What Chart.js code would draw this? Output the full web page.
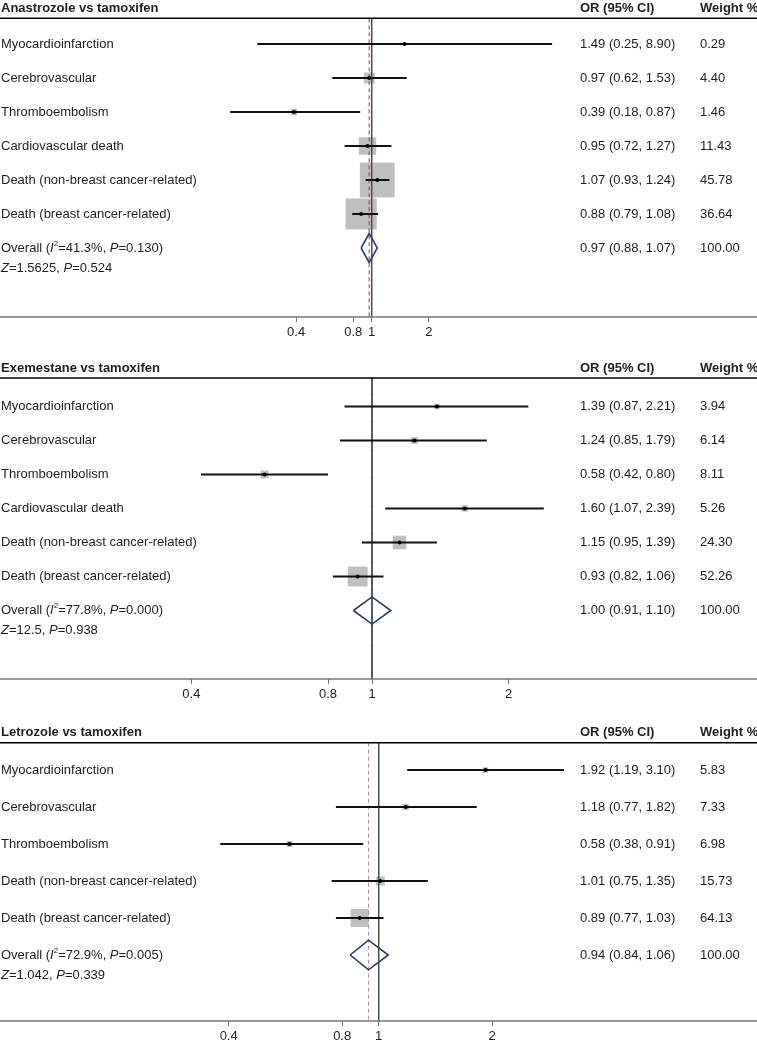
<!DOCTYPE html>
<html><head><meta charset="utf-8">
<script src="https://cdn.jsdelivr.net/npm/chart.js@4.4.1/dist/chart.umd.min.js"></script>
<style>
html,body{margin:0;padding:0;background:#fff;width:757px;height:1050px;overflow:hidden;}
.p{position:absolute;left:0;width:757px;}
</style></head><body>
<div class="p" id="w1"><canvas id="c1"></canvas></div>
<div class="p" id="w2"><canvas id="c2"></canvas></div>
<div class="p" id="w3"><canvas id="c3"></canvas></div>
<script>
// ---------- DATA ----------
const titles = ["Anastrozole vs tamoxifen", "Exemestane vs tamoxifen", "Letrozole vs tamoxifen"];
const tickValues = [0.4, 0.8, 1, 2];

const outcomes1 = ["Myocardioinfarction","Cerebrovascular","Thromboembolism","Cardiovascular death","Death (non-breast cancer-related)","Death (breast cancer-related)"];
const or1 = [1.49, 0.97, 0.39, 0.95, 1.07, 0.88];
const lo1 = [0.25, 0.62, 0.18, 0.72, 0.93, 0.79];
const hi1 = [8.90, 1.53, 0.87, 1.27, 1.24, 1.08];
const wt1 = [0.29, 4.40, 1.46, 11.43, 45.78, 36.64];
const overall1 = [0.97, 0.88, 1.07];      // OR, lower, upper
const stats1 = ["41.3", "0.130", "1.5625", "0.524"]; // I2, P(het), Z, P

const outcomes2 = ["Myocardioinfarction","Cerebrovascular","Thromboembolism","Cardiovascular death","Death (non-breast cancer-related)","Death (breast cancer-related)"];
const or2 = [1.39, 1.24, 0.58, 1.60, 1.15, 0.93];
const lo2 = [0.87, 0.85, 0.42, 1.07, 0.95, 0.82];
const hi2 = [2.21, 1.79, 0.80, 2.39, 1.39, 1.06];
const wt2 = [3.94, 6.14, 8.11, 5.26, 24.30, 52.26];
const overall2 = [1.00, 0.91, 1.10];
const stats2 = ["77.8", "0.000", "12.5", "0.938"];

const outcomes3 = ["Myocardioinfarction","Cerebrovascular","Thromboembolism","Death (non-breast cancer-related)","Death (breast cancer-related)"];
const or3 = [1.92, 1.18, 0.58, 1.01, 0.89];
const lo3 = [1.19, 0.77, 0.38, 0.75, 0.77];
const hi3 = [3.10, 1.82, 0.91, 1.35, 1.03];
const wt3 = [5.83, 7.33, 6.98, 15.73, 64.13];
const overall3 = [0.94, 0.84, 1.06];
const stats3 = ["72.9", "0.005", "1.042", "0.339"];

// ---------- LAYOUT / STYLE ----------
const FONT = '"Liberation Sans", Arial, Helvetica, sans-serif';
const FS = 13;
const TEXT = '#1e1e1e';
// panel-local pixel targets: header line, first row, row step, axis line; x: pixel of 1 and px per decade
const layouts = [
  {top: 0,   header: 18.3, row1: 44,   step: 34, axis: 317, p1: 371.7, dec: 190, box: 5.15, dia: 0.43, dash: '#8e3b46'},
  {top: 350, header: 28,   row1: 56.5, step: 34, axis: 329, p1: 372,   dec: 454, box: 2.75, dia: 0.40, dash: '#8e3b46'},
  {top: 700, header: 42.7, row1: 70,   step: 37, axis: 321, p1: 378.7, dec: 377, box: 2.25, dia: 0.40, dash: '#b9868c'}
];
const AXIS_H = 5 + 3 + FS * 1.2;

function drawRich(ctx, parts, x, y) {
  let cx = x;
  for (const [t, st] of parts) {
    let f = FS + 'px ' + FONT, dy = 0;
    if (st === 'i') f = 'italic ' + FS + 'px ' + FONT;
    if (st === 's') { f = Math.round(FS * 0.62) + 'px ' + FONT; dy = -FS * 0.33; }
    ctx.font = f;
    ctx.fillText(t, cx, y + dy);
    cx += ctx.measureText(t).width;
  }
}

function makePanel(idx, labels, or, lo, hi, wt, overall, stats) {
  const L = layouts[idx];
  const H = Math.ceil(L.axis + AXIS_H + 8);
  const wrap = document.getElementById('w' + (idx + 1));
  wrap.style.top = L.top + 'px';
  wrap.style.height = H + 'px';
  const n = labels.length;
  const yHead = 1 - (L.row1 - L.header) / L.step;
  const yAxis = yHead + (L.axis - L.header) / L.step;
  const ovRow = n + 1;
  const rows = labels.map((_, i) => i + 1);

  const datasets = [];
  datasets.push({data: rows.map((r, i) => ({x: or[i], y: r})), pointStyle: 'circle', pointRadius: 2,
    backgroundColor: '#000', borderWidth: 0, order: 0});
  rows.forEach((r, i) => datasets.push({data: [{x: lo[i], y: r}, {x: hi[i], y: r}], showLine: true,
    borderColor: '#111', borderWidth: 2, pointRadius: 0, order: 1}));
  datasets.push({data: [{x: overall[1], y: ovRow}, {x: overall[0], y: ovRow - L.dia}, {x: overall[2], y: ovRow},
    {x: overall[0], y: ovRow + L.dia}, {x: overall[1], y: ovRow}], showLine: true, borderColor: '#2c3868',
    borderWidth: 1.6, pointRadius: 0, tension: 0, order: 2});
  datasets.push({data: [{x: 1, y: yHead}, {x: 1, y: yAxis}], showLine: true, borderColor: '#4a4a4a',
    borderWidth: 1, pointRadius: 0, order: 3, clip: false});
  datasets.push({data: [{x: overall[0], y: yHead}, {x: overall[0], y: yAxis}], showLine: true, borderColor: L.dash,
    borderWidth: 1, borderDash: [4, 3], pointRadius: 0, order: 4, clip: false});
  datasets.push({data: rows.map((r, i) => ({x: or[i], y: r})), pointStyle: 'rect',
    pointRadius: wt.map(w => L.box * Math.sqrt(w) / Math.SQRT2), backgroundColor: '#bfbfbf', borderWidth: 0, order: 5});

  const textPlugin = {
    id: 'txt' + idx,
    afterDraw(chart) {
      const ctx = chart.ctx, ys = chart.scales.y, top = L.header;
      ctx.save();
      // full-width axis line
      ctx.strokeStyle = '#777'; ctx.lineWidth = 1.5;
      ctx.beginPath(); ctx.moveTo(0, chart.chartArea.bottom); ctx.lineTo(757, chart.chartArea.bottom); ctx.stroke();
      ctx.fillStyle = TEXT;
      ctx.textBaseline = 'middle';
      ctx.textAlign = 'left';
      ctx.font = 'bold ' + FS + 'px ' + FONT;
      ctx.fillText(titles[idx], 1, top - 10);
      ctx.fillText('OR (95% CI)', 580, top - 10);
      ctx.fillText('Weight %', 700, top - 10);
      ctx.strokeStyle = '#000'; ctx.lineWidth = 1.6;
      ctx.beginPath(); ctx.moveTo(0, top); ctx.lineTo(757, top); ctx.stroke();
      ctx.font = FS + 'px ' + FONT;
      rows.forEach((r, i) => {
        const y = ys.getPixelForValue(r);
        ctx.fillText(labels[i], 1, y);
        ctx.fillText(or[i].toFixed(2) + ' (' + lo[i].toFixed(2) + ', ' + hi[i].toFixed(2) + ')', 580, y);
        ctx.fillText(wt[i].toFixed(2), 700, y);
      });
      const yo = ys.getPixelForValue(ovRow);
      drawRich(ctx, [['Overall (', 'n'], ['I', 'i'], ['2', 's'], ['=' + stats[0] + '%, ', 'n'], ['P', 'i'], ['=' + stats[1] + ')', 'n']], 1, yo);
      drawRich(ctx, [['Z', 'i'], ['=' + stats[2] + ', ', 'n'], ['P', 'i'], ['=' + stats[3], 'n']], 1, yo + 20);
      ctx.font = FS + 'px ' + FONT;
      ctx.fillText(overall[0].toFixed(2) + ' (' + overall[1].toFixed(2) + ', ' + overall[2].toFixed(2) + ')', 580, yo);
      ctx.fillText((100).toFixed(2), 700, yo);
      ctx.restore();
    }
  };

  const chart = new Chart(document.getElementById('c' + (idx + 1)), {
    type: 'scatter',
    data: {datasets},
    options: {
      responsive: true, maintainAspectRatio: false, animation: false,
      layout: {padding: {top: L.header - 4, bottom: H - L.axis - AXIS_H, left: 0, right: 0}},
      plugins: {legend: {display: false}, tooltip: {enabled: false}},
      scales: {
        x: {type: 'logarithmic', min: 0.05, max: 20, bounds: 'data',
          afterBuildTicks: s => { s.ticks = tickValues.map(v => ({value: v})); },
          ticks: {autoSkip: false, maxRotation: 0, minRotation: 0, padding: 3, color: TEXT, font: {family: FONT, size: FS},
            callback: v => String(v)},
          grid: {drawOnChartArea: false, tickLength: 5, color: '#777', lineWidth: 1},
          border: {display: false}},
        y: {type: 'linear', reverse: true, min: yHead, max: yAxis, display: false}
      }
    },
    plugins: [textPlugin]
  });

  for (let k = 0; k < 3; k++) {
    const ca = chart.chartArea;
    chart.options.layout.padding.bottom += (ca.bottom - L.axis);
    const ymin = 1 - (L.row1 - ca.top) / L.step;
    chart.options.scales.y.min = ymin;
    chart.options.scales.y.max = ymin + (ca.bottom - ca.top) / L.step;
    const lmin = -(L.p1 - ca.left) / L.dec;
    chart.options.scales.x.min = Math.pow(10, lmin);
    chart.options.scales.x.max = Math.pow(10, lmin + (ca.right - ca.left) / L.dec);
    chart.update();
  }
}

makePanel(0, outcomes1, or1, lo1, hi1, wt1, overall1, stats1);
makePanel(1, outcomes2, or2, lo2, hi2, wt2, overall2, stats2);
makePanel(2, outcomes3, or3, lo3, hi3, wt3, overall3, stats3);
</script>
</body></html>
